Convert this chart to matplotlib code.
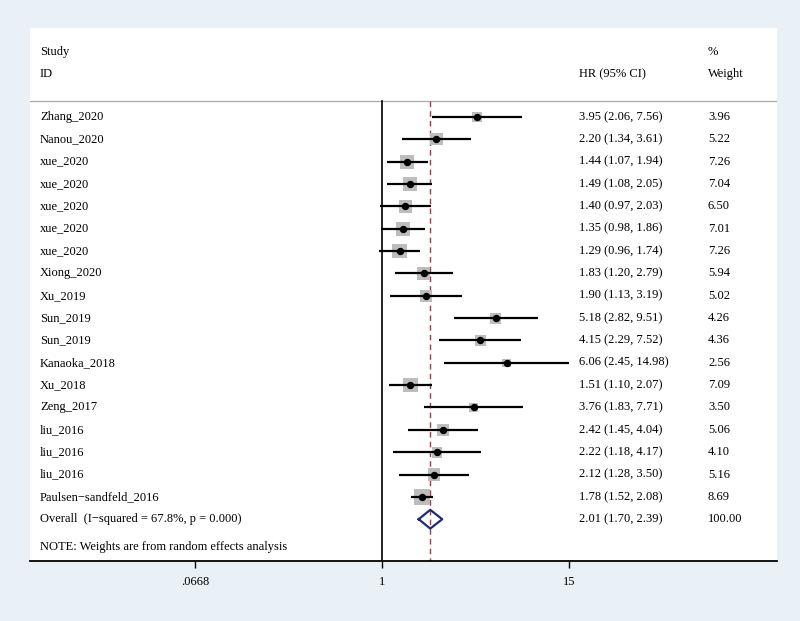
import numpy as np
import matplotlib.pyplot as plt
import matplotlib.transforms as mtransforms

# study rows (top to bottom)
studies = ["Zhang_2020", "Nanou_2020", "xue_2020", "xue_2020", "xue_2020", "xue_2020",
           "xue_2020", "Xiong_2020", "Xu_2019", "Sun_2019", "Sun_2019", "Kanaoka_2018",
           "Xu_2018", "Zeng_2017", "liu_2016", "liu_2016", "liu_2016",
           "Paulsen\u2212sandfeld_2016"]
hr = [3.95, 2.20, 1.44, 1.49, 1.40, 1.35, 1.29, 1.83, 1.90, 5.18, 4.15, 6.06,
      1.51, 3.76, 2.42, 2.22, 2.12, 1.78]
lo = [2.06, 1.34, 1.07, 1.08, 0.97, 0.98, 0.96, 1.20, 1.13, 2.82, 2.29, 2.45,
      1.10, 1.83, 1.45, 1.18, 1.28, 1.52]
hi = [7.56, 3.61, 1.94, 2.05, 2.03, 1.86, 1.74, 2.79, 3.19, 9.51, 7.52, 14.98,
      2.07, 7.71, 4.04, 4.17, 3.50, 2.08]
weights = [3.96, 5.22, 7.26, 7.04, 6.50, 7.01, 7.26, 5.94, 5.02, 4.26, 4.36, 2.56,
           7.09, 3.50, 5.06, 4.10, 5.16, 8.69]

overall_label = "Overall  (I\u2212squared = 67.8%, p = 0.000)"
overall_hr, overall_lo, overall_hi, overall_w = 2.01, 1.70, 2.39, 100.00
note = "NOTE: Weights are from random effects analysis"

xticks = [0.0668, 1, 15]
xticklabels = [".0668", "1", "15"]

plt.rcParams['font.family'] = ['Liberation Serif', 'DejaVu Serif']
FS = 9

fig = plt.figure(figsize=(8, 6.21), dpi=100, facecolor="#e9f1f6")
W, H = 800, 621
ax = fig.add_axes([30 / W, (H - 561) / H, (777 - 30) / W, (561 - 28) / H])
ax.set_facecolor("white")
ax.set_xscale("log")
ax.set_xlim(np.exp(-5.094), np.exp(5.716))
ax.set_ylim(19.87, -3.98)

for s in ["top", "right", "left"]:
    ax.spines[s].set_visible(False)
ax.spines["bottom"].set_linewidth(1.3)
ax.set_yticks([])
ax.set_xticks(xticks)
ax.set_xticklabels(xticklabels, fontsize=FS)
ax.minorticks_off()
ax.tick_params(axis="x", length=5, width=1.0, pad=6)

n = len(studies)
ys = np.arange(n)
y_sep = -0.72
y_bot = 19.87

# header separator
ax.axhline(y_sep, color="#a8a8a8", lw=0.9)

# null line and overall dashed line
ax.plot([1, 1], [y_sep, y_bot], color="black", lw=1.2, zorder=2)
ax.plot([overall_hr, overall_hr], [y_sep, y_bot], color="#a33a48", lw=1.0,
        dashes=(4, 3), zorder=2)

# boxes sized by weight
side_pt = 5.3 * np.sqrt(weights) * 0.72
ax.scatter(hr, ys, marker="s", s=side_pt ** 2, color="#bdbdbd", zorder=3,
           linewidths=0)
ax.hlines(ys, lo, hi, color="black", lw=1.6, zorder=4)
ax.plot(hr, ys, "o", color="black", ms=4.3, zorder=5)

# overall diamond
yo = n
dx = [overall_lo, overall_hr, overall_hi, overall_hr, overall_lo]
dy = [yo, yo - 0.42, yo, yo + 0.42, yo]
ax.plot(dx, dy, color="#1f2a78", lw=1.6, zorder=5)

# text columns
tr = mtransforms.blended_transform_factory(fig.transFigure, ax.transData)
x_lab, x_hr, x_w = 40 / W, 579 / W, 708 / W

ax.text(x_lab, -2.91, "Study", transform=tr, fontsize=FS, va="center")
ax.text(x_lab, -1.92, "ID", transform=tr, fontsize=FS, va="center")
ax.text(x_hr, -1.92, "HR (95% CI)", transform=tr, fontsize=FS, va="center")
ax.text(x_w, -2.91, "%", transform=tr, fontsize=FS, va="center")
ax.text(x_w, -1.92, "Weight", transform=tr, fontsize=FS, va="center")

for i in range(n):
    ax.text(x_lab, ys[i], studies[i], transform=tr, fontsize=FS, va="center")
    ax.text(x_hr, ys[i], f"{hr[i]:.2f} ({lo[i]:.2f}, {hi[i]:.2f})",
            transform=tr, fontsize=FS, va="center")
    ax.text(x_w, ys[i], f"{weights[i]:.2f}", transform=tr, fontsize=FS, va="center")

ax.text(x_lab, yo, overall_label, transform=tr, fontsize=FS, va="center")
ax.text(x_hr, yo, f"{overall_hr:.2f} ({overall_lo:.2f}, {overall_hi:.2f})",
        transform=tr, fontsize=FS, va="center")
ax.text(x_w, yo, f"{overall_w:.2f}", transform=tr, fontsize=FS, va="center")
ax.text(x_lab, 19.24, note, transform=tr, fontsize=FS, va="center")

fig.savefig("out.png", dpi=100, facecolor=fig.get_facecolor())
